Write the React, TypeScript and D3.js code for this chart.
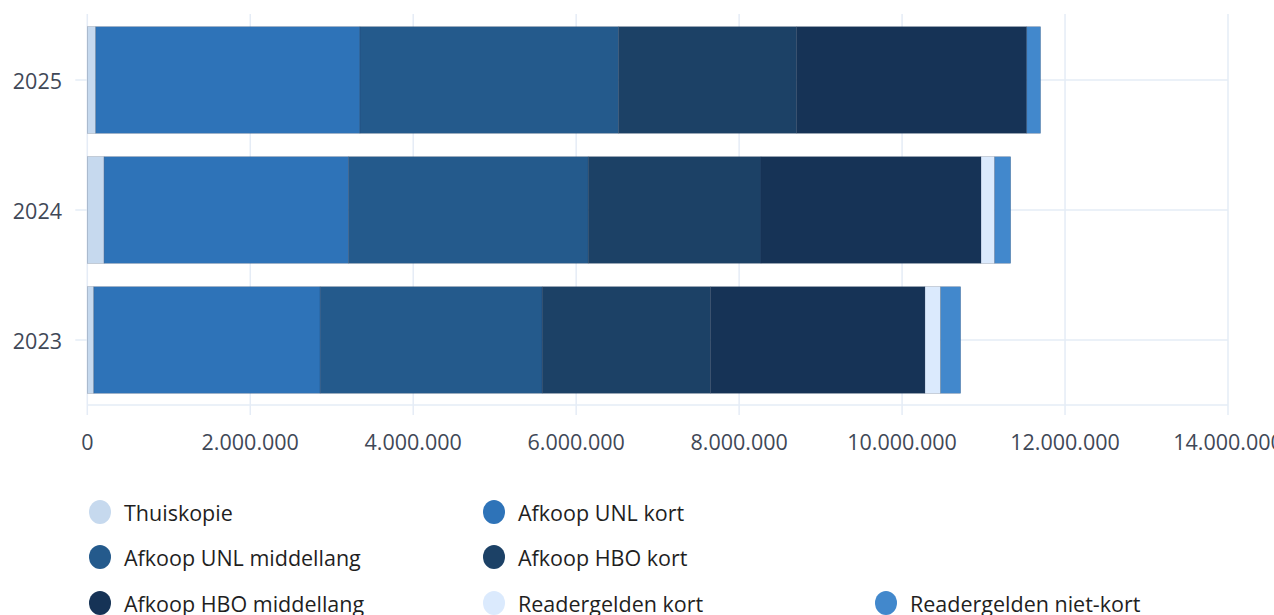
import React from "react";
import * as d3 from "d3";

const years = ["2025", "2024", "2023"];

const seriesNames = [
    "Thuiskopie",
    "Afkoop UNL kort",
    "Afkoop UNL middellang",
    "Afkoop HBO kort",
    "Afkoop HBO middellang",
    "Readergelden kort",
    "Readergelden niet-kort",
];

const seriesColors = ["#c6d9ee", "#2e73b8", "#245a8c", "#1c4166", "#163356", "#dbeafd", "#4288cc"];

// values per year, same order as years
const thuiskopie = [104000, 206000, 80000];
const unlKort = [3242000, 3001000, 2778000];
const unlMiddellang = [3174000, 2941000, 2725000];
const hboKort = [2186000, 2120000, 2067000];
const hboMiddellang = [2824000, 2701000, 2631000];
const readerKort = [0, 168000, 193000];
const readerNietKort = [170000, 196000, 245000];

const xTicks = [0, 2000000, 4000000, 6000000, 8000000, 10000000, 12000000, 14000000];

const W = 1274;
const H = 615;
const margin = { top: 15, right: 46, bottom: 210, left: 87.3 };
const gridColor = "#e5ecf6";
const textColor = "#3f4857";
const font = "'Open Sans', sans-serif";

// legend slots: [column, row]
const legendSlots = [[0, 0], [1, 0], [0, 1], [1, 1], [0, 2], [1, 2], [2, 2]];
const legendCols = [100, 494, 886];
const legendRows = [512, 557, 603];

const fmt = (v: number) => d3.format(",")(v).replace(/,/g, ".");

export default function App() {
    const allSeries = [thuiskopie, unlKort, unlMiddellang, hboKort, hboMiddellang, readerKort, readerNietKort];

    const table = years.map((y, i) => {
        const row: any = { year: y };
        seriesNames.forEach((s, j) => (row[s] = allSeries[j][i]));
        return row;
    });

    const stack = d3.stack().keys(seriesNames);
    const stacked = stack(table);

    const x = d3.scaleLinear()
        .domain([0, 14000000])
        .range([margin.left, W - margin.right]);

    const y = d3.scaleBand()
        .domain(years)
        .range([margin.top, H - margin.bottom])
        .paddingInner(0.18)
        .paddingOuter(0.09);

    const yBand = d3.scaleBand().domain(years).range([margin.top, H - margin.bottom]);
    const yMid = (yr: string) => (yBand(yr) as number) + yBand.bandwidth() / 2;
    const plotBottom = H - margin.bottom;

    return (
        <div style={{ position: "absolute", left: 0, top: 0 }}>
            <svg width={W} height={H} style={{ display: "block", fontFamily: font }}>
                <rect width={W} height={H} fill="#fff" />
                {/* vertical grid + ticks */}
                {xTicks.map(t => (
                    <g key={t}>
                        <line x1={x(t)} x2={x(t)} y1={margin.top - 1} y2={plotBottom + 10} stroke={gridColor} strokeWidth={1.5} />
                        <text x={x(t)} y={441} textAnchor="middle" dominantBaseline="central" fontSize={21.5} fill={textColor}>
                            {fmt(t)}
                        </text>
                    </g>
                ))}
                {/* horizontal grid at categories */}
                {years.map(yr => (
                    <g key={yr}>
                        <line x1={margin.left - 12} x2={x(14000000)} y1={yMid(yr)} y2={yMid(yr)} stroke={gridColor} strokeWidth={1.5} />
                        <text x={62} y={yMid(yr)} textAnchor="end" dominantBaseline="central" fontSize={21.5} fill={textColor}>
                            {yr}
                        </text>
                    </g>
                ))}
                <line x1={margin.left} x2={x(14000000)} y1={plotBottom} y2={plotBottom} stroke={gridColor} strokeWidth={1.5} />
                {/* bars */}
                {stacked.map((layer, j) => (
                    <g key={layer.key} fill={seriesColors[j]}>
                        {layer.map((d, i) => {
                            const w = x(d[1]) - x(d[0]);
                            if (w <= 0) return null;
                            return (
                                <rect
                                    key={years[i]}
                                    x={x(d[0])}
                                    y={y(years[i])}
                                    width={w}
                                    height={y.bandwidth()}
                                    stroke="rgba(30,50,80,0.35)"
                                    strokeWidth={0.6}
                                />
                            );
                        })}
                    </g>
                ))}
                {/* legend */}
                {seriesNames.map((s, j) => {
                    const [c, r] = legendSlots[j];
                    const cx = legendCols[c];
                    const cy = legendRows[r];
                    return (
                        <g key={s}>
                            <ellipse cx={cx} cy={cy} rx={11} ry={12} fill={seriesColors[j]} />
                            <text x={cx + 24} y={cy} dominantBaseline="central" fontSize={21.5} fill="#1f1f1f">
                                {s}
                            </text>
                        </g>
                    );
                })}
            </svg>
        </div>
    );
}
